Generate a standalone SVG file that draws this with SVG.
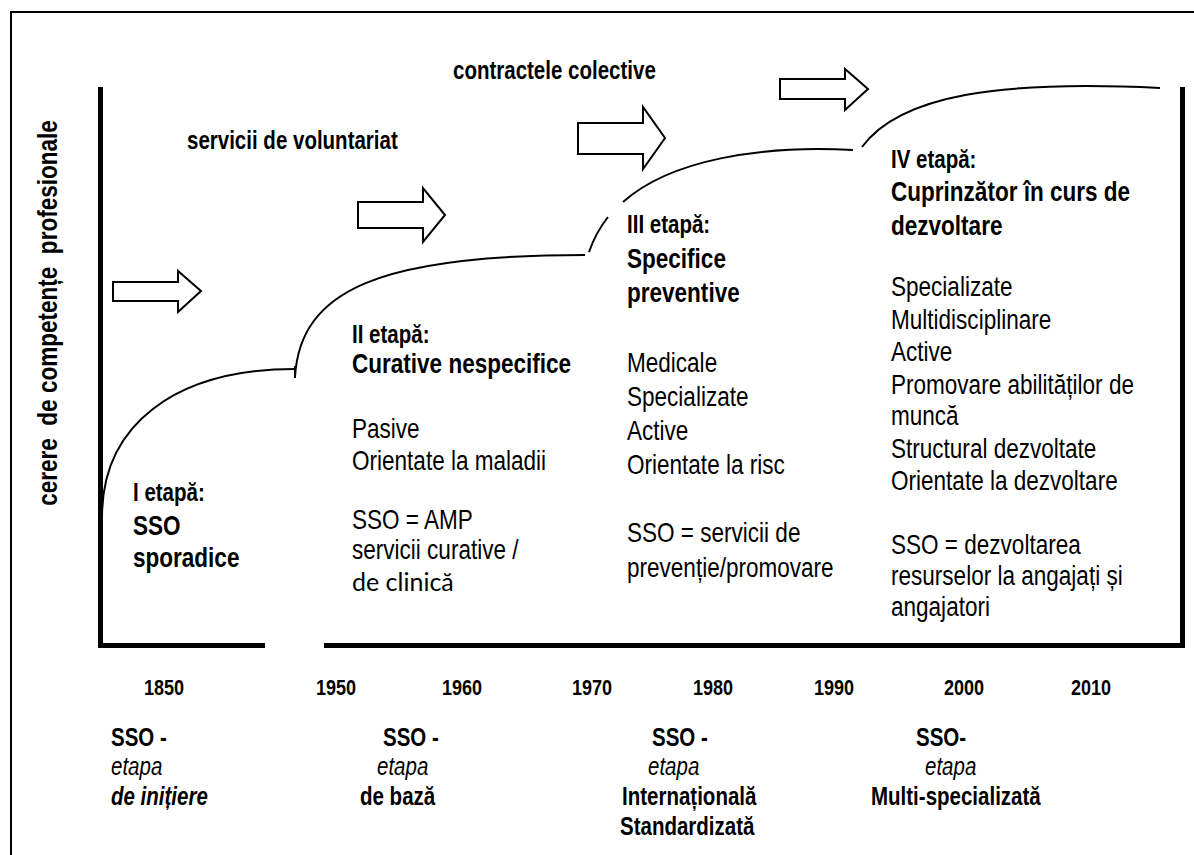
<svg xmlns="http://www.w3.org/2000/svg" width="1194" height="855" viewBox="0 0 1194 855">
<style>
text{font-family:"Liberation Sans Narrow","Arial Narrow","Liberation Sans",Arial,sans-serif;fill:#000}
text.n{transform-box:fill-box;transform-origin:0 50%;transform:scaleX(0.82)}
.b{font-weight:bold}
.lab{font-size:25px}
.hd{font-size:27.5px;font-weight:bold}
.bd{font-size:27.5px}
.yr{font-size:22px;font-weight:bold}
.it{font-style:italic}
text.cal{font-family:Lato,"Open Sans",sans-serif;font-size:25px}
.arr{fill:#fff;stroke:#000;stroke-width:2;stroke-linejoin:miter}
.crv{fill:none;stroke:#000;stroke-width:2}
.axis{fill:none;stroke:#000;stroke-width:5}
</style>
<rect width="1194" height="855" fill="#fff"/>
<path d="M11,855 V12 H1194" fill="none" stroke="#000" stroke-width="2"/>
<g id="axes">
<path class="axis" d="M100.5,87 V645.5 H265"/>
<path class="axis" d="M324,645.5 H1182.5 V87"/>
</g>
<g id="connectors">
<path class="crv" d="M102,517 C102,425 175,369 295,369"/>
<path class="crv" d="M295,366 V378"/>
<path class="crv" d="M295,377 C300,290 380,255 585,255"/>
<path class="crv" d="M589,252 Q596,232 608,217"/>
<path class="crv" d="M623,202 C670,160 760,145 853,150"/>
<path class="crv" d="M862,147 C900,95 1000,80 1160,88"/>
<polygon class="arr" points="113,282 178,282 178,271 201,291 178,312 178,301 113,301"/>
<polygon class="arr" points="358,202 423,202 423,188 445,215 423,242 423,228 358,228"/>
<polygon class="arr" points="578,123 643,123 643,107 665,138 643,169 643,154 578,154"/>
<polygon class="arr" points="780,79 845,79 845,69 868,89 845,110 845,99 780,99"/>
</g>
<g id="ylabel">
<text class="b" font-size="27.5" text-anchor="middle" transform="translate(57,313) rotate(-90) scale(0.82,1)" xml:space="preserve">cerere  de competențe  profesionale</text>
</g>
<g id="top-labels">
<text class="n b lab" x="187" y="149">servicii de voluntariat</text>
<text class="n b lab" x="453" y="79">contractele colective</text>
</g>
<g id="stage1">
<text class="n b lab" x="133" y="501">I etapă:</text>
<text class="n hd" x="133" y="535">SSO</text>
<text class="n hd" x="133" y="567">sporadice</text>
</g>
<g id="stage2">
<text class="n b lab" x="352" y="343">II etapă:</text>
<text class="n hd" x="352" y="373">Curative nespecifice</text>
<text class="n bd" x="352" y="438">Pasive</text>
<text class="n bd" x="352" y="470">Orientate la maladii</text>
<text class="n bd" x="352" y="529">SSO = AMP</text>
<text class="n bd" x="352" y="559">servicii curative /</text>
<text class="cal" x="352" y="591">de clinică</text>
</g>
<g id="stage3">
<text class="n b lab" x="627" y="233">III etapă:</text>
<text class="n hd" x="627" y="268">Specifice</text>
<text class="n hd" x="627" y="302">preventive</text>
<text class="n bd" x="627" y="372">Medicale</text>
<text class="n bd" x="627" y="406">Specializate</text>
<text class="n bd" x="627" y="440">Active</text>
<text class="n bd" x="627" y="474">Orientate la risc</text>
<text class="n bd" x="627" y="542">SSO = servicii de</text>
<text class="n bd" x="627" y="577">prevenție/promovare</text>
</g>
<g id="stage4">
<text class="n b lab" x="891" y="168">IV etapă:</text>
<text class="n hd" x="891" y="201">Cuprinzător în curs de</text>
<text class="n hd" x="891" y="235">dezvoltare</text>
<text class="n bd" x="891" y="296">Specializate</text>
<text class="n bd" x="891" y="329">Multidisciplinare</text>
<text class="n bd" x="891" y="361">Active</text>
<text class="n bd" x="891" y="394">Promovare abilităților de</text>
<text class="n bd" x="891" y="425">muncă</text>
<text class="n bd" x="891" y="458">Structural dezvoltate</text>
<text class="n bd" x="891" y="490">Orientate la dezvoltare</text>
<text class="n bd" x="891" y="554">SSO = dezvoltarea</text>
<text class="n bd" x="891" y="585">resurselor la angajați și</text>
<text class="n bd" x="891" y="616">angajatori</text>
</g>
<g id="years">
<text class="n yr" x="144" y="695">1850</text>
<text class="n yr" x="316" y="695">1950</text>
<text class="n yr" x="442" y="695">1960</text>
<text class="n yr" x="572" y="695">1970</text>
<text class="n yr" x="693" y="695">1980</text>
<text class="n yr" x="814" y="695">1990</text>
<text class="n yr" x="944" y="695">2000</text>
<text class="n yr" x="1071" y="695">2010</text>
</g>
<g id="phase1">
<text class="n b lab" x="111" y="746">SSO -</text>
<text class="n lab it" x="111" y="775">etapa</text>
<text class="n b lab it" x="111" y="805">de inițiere</text>
</g>
<g id="phase2">
<text class="n b lab" x="383" y="746">SSO -</text>
<text class="n lab it" x="377" y="775">etapa</text>
<text class="n b lab" x="360" y="805">de bază</text>
</g>
<g id="phase3">
<text class="n b lab" x="652" y="746">SSO -</text>
<text class="n lab it" x="648" y="775">etapa</text>
<text class="n b lab" x="622" y="805">Internațională</text>
<text class="n b lab" x="620" y="835">Standardizată</text>
</g>
<g id="phase4">
<text class="n b lab" x="916" y="746">SSO-</text>
<text class="n lab it" x="925" y="775">etapa</text>
<text class="n b lab" x="871" y="805">Multi-specializată</text>
</g>
</svg>
